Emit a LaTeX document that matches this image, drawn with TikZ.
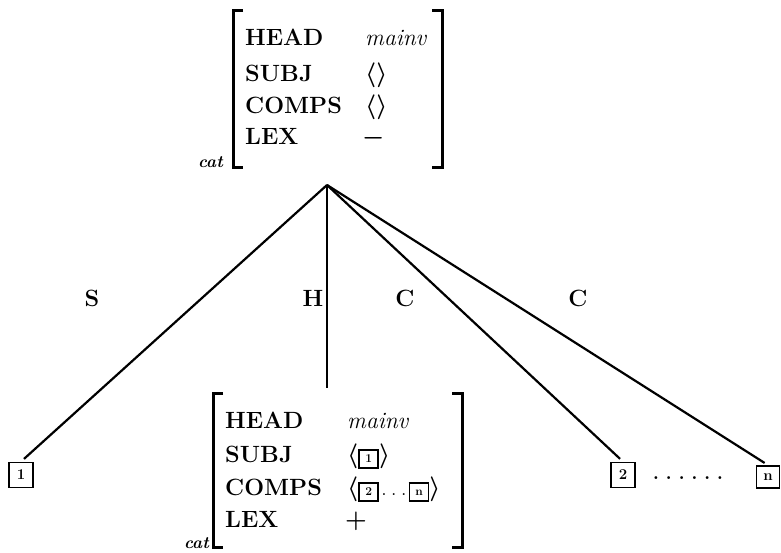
\documentclass[tikz,border=0pt]{standalone}
\newcommand\tagbx[1]{{\setlength{\fboxrule}{1.6pt}\setlength{\fboxsep}{2.5pt}\fbox{\fontsize{12}{12}\selectfont\bfseries\rule[-2.5pt]{0pt}{11.5pt}\makebox[12.5pt]{#1}}}}
\begin{document}
\begin{tikzpicture}[x=1pt,y=-1pt,
 feat/.style={anchor=base west, inner sep=0pt, font=\fontsize{23.5}{28}\selectfont\bfseries},
 val/.style={anchor=base west, inner sep=0pt, font=\fontsize{23.5}{28}\selectfont},
 valb/.style={anchor=base west, inner sep=0pt, font=\fontsize{23.5}{28}\selectfont\mathversion{bold}},
 lbl/.style={font=\fontsize{23.5}{28}\selectfont\bfseries, inner sep=0pt},
 brk/.style={line width=3pt, line join=miter},
 edge/.style={line width=2.2pt, shorten >=4pt},
 leaf/.style={draw, line width=1.8pt, minimum width=24pt, minimum height=25pt, inner sep=0pt, font=\fontsize{15}{15}\selectfont\bfseries},
 catlbl/.style={anchor=base east, inner sep=0pt, font=\fontsize{17}{17}\selectfont\bfseries\itshape}]
\useasboundingbox (0,0) rectangle (781,552);
% top AVM
\draw[brk] (243,10) -| (233,167) -- (243,167);
\draw[brk] (432,10) -| (442,167) -- (432,167);
\node[catlbl] (tcat) at (223,167) {cat};
\node[feat] (th) at (245,45) {HEAD};
\node[feat] (ts) at (245,81) {SUBJ};
\node[feat] (tc) at (245,113) {COMPS};
\node[feat] (tl) at (245,144) {LEX};
\node[val] (thv) at (365,45) {\itshape mainv};
\node[valb] (tsv) at (365,81) {$\langle\rangle$};
\node[valb] (tcv) at (365,113) {$\langle\rangle$};
\node[valb] (tlv) at (362,144) {$-$};
% bottom AVM
\draw[brk] (223,393) -| (213,547) -- (223,547);
\draw[brk] (452,393) -| (462,547) -- (452,547);
\node[catlbl] (bcat) at (209,548) {cat};
\node[feat] (bh) at (225,428) {HEAD};
\node[feat] (bs) at (225,462) {SUBJ};
\node[feat] (bc) at (225,495) {COMPS};
\node[feat] (bl) at (225,527) {LEX};
\node[val] (bhv) at (347,428) {\itshape mainv};
\node[valb] (bsv) at (347,462) {$\langle$\tagbx{1}$\rangle$};
\node[valb] (bcv) at (347,495) {$\langle$\tagbx{2}\hspace{2pt}.\hspace{4pt}.\hspace{4pt}.\hspace{2pt}\tagbx{n}$\rangle$};
\node[valb] (blv) at (345,527) {$+$};
% tree
\coordinate (apex) at (327,185);
\coordinate (hd) at (327,388);
\node[leaf] (l1) at (21,475) {1};
\node[leaf] (l2) at (623,475) {2};
\node[leaf, minimum width=23pt, minimum height=22pt] (ln) at (768,477) {n};
\node[lbl, font=\fontsize{20}{20}\selectfont\bfseries] (dots) at (688,478) {.\hspace{6.5pt}.\hspace{6.5pt}.\hspace{6.5pt}.\hspace{6.5pt}.\hspace{6.5pt}.};
\draw[edge] (apex) -- (l1.north);
\draw[edge, shorten >=0pt] (apex) -- (hd);
\draw[edge] (apex) -- (l2.north);
\draw[edge] (apex) -- (ln.north);
\node[lbl] (ls) at (92,298) {S};
\node[lbl] (lh) at (313,298) {H};
\node[lbl] (lc1) at (405,298) {C};
\node[lbl] (lc2) at (578,298) {C};
\end{tikzpicture}
\end{document}
